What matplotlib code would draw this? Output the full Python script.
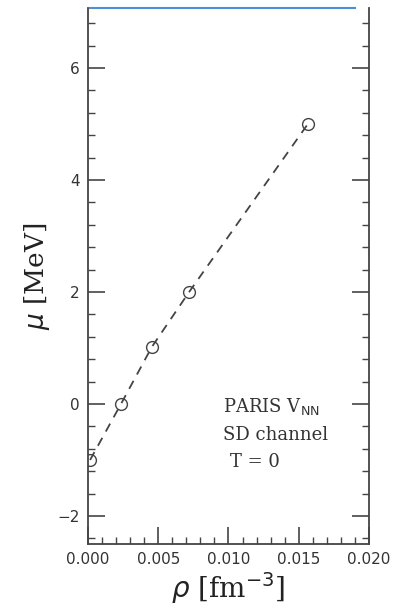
import matplotlib
matplotlib.use("Agg")
import matplotlib.pyplot as plt
from matplotlib.ticker import MultipleLocator

rho = [0.00015, 0.00235, 0.00455, 0.0072, 0.01565]
mu = [-1.0, 0.0, 1.02, 2.0, 5.0]

xticks = [0.000, 0.005, 0.010, 0.015, 0.020]
xticklabels = ["0.000", "0.005", "0.010", "0.015", "0.020"]
yticks = [-2, 0, 2, 4, 6]
yticklabels = ["\u22122", "0", "2", "4", "6"]

fig = plt.figure(figsize=(3.98, 6.11), dpi=100)
ax = fig.add_axes([0.221, 0.1097, 0.706, 0.877])

gray = "#444444"
ax.plot(rho, mu, linestyle=(0, (5, 4)), color="#444444", lw=1.3,
        marker="o", markersize=8.5, markerfacecolor="none",
        markeredgecolor="#444444", markeredgewidth=1.0)

ax.set_xlim(0.0, 0.020)
ax.set_ylim(-2.5, 7.07)
ax.set_xticks(xticks)
ax.set_xticklabels(xticklabels)
ax.set_yticks(yticks)
ax.set_yticklabels(yticklabels)
ax.xaxis.set_minor_locator(MultipleLocator(0.001))
ax.yaxis.set_minor_locator(MultipleLocator(0.4))

ax.tick_params(which="major", direction="in", length=12.5, width=1.2,
               color=gray, top=False, right=True, labelsize=11,
               labelcolor="#333333", pad=6)
ax.tick_params(which="minor", direction="in", length=5, width=1.0,
               color=gray, top=False, right=True)
for lab in ax.get_xticklabels() + ax.get_yticklabels():
    lab.set_family("DejaVu Sans")

for s in ["left", "right", "bottom"]:
    ax.spines[s].set_color(gray)
    ax.spines[s].set_linewidth(1.3)
ax.spines["top"].set_visible(False)
ax.plot([0.007, 0.95], [1.0, 1.0], transform=ax.transAxes, color="#4a90d9",
        lw=1.5, clip_on=False)

ax.set_ylabel(r"$\mu$ [MeV]", fontsize=19, family="DejaVu Serif",
              color="#222222", labelpad=4)
ax.set_xlabel(r"$\rho$ [fm$^{-3}$]", fontsize=20, family="DejaVu Serif",
              color="#222222", labelpad=2)

ax.text(0.48, 0.256, r"PARIS V$_{\mathrm{NN}}$", transform=ax.transAxes,
        fontsize=13, family="DejaVu Serif", color="#333333", va="center")
ax.text(0.48, 0.203, "SD channel", transform=ax.transAxes,
        fontsize=13, family="DejaVu Serif", color="#333333", va="center")
ax.text(0.505, 0.153, "T = 0", transform=ax.transAxes,
        fontsize=13, family="DejaVu Serif", color="#333333", va="center")

fig.savefig("out.png", dpi=100)
